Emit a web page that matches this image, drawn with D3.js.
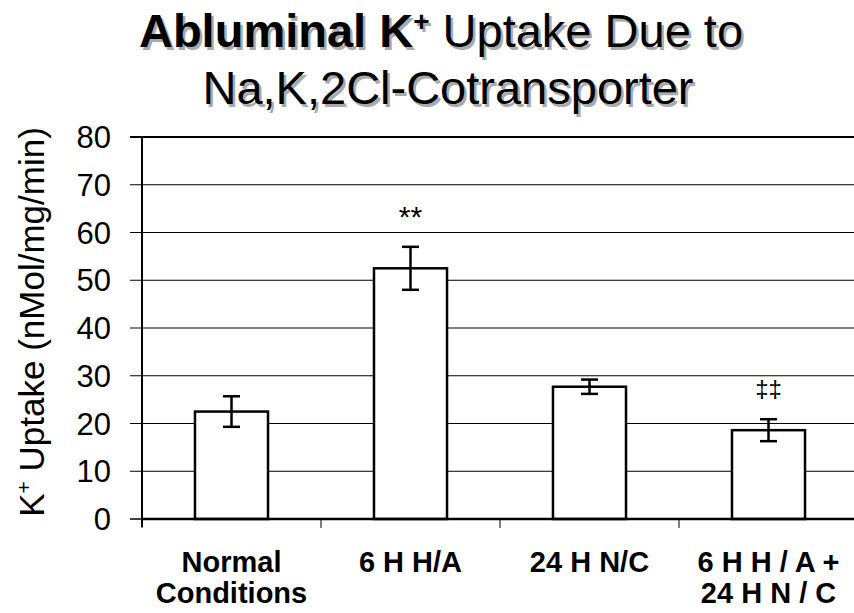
<!DOCTYPE html>
<html><head><meta charset="utf-8">
<script src="https://cdn.jsdelivr.net/npm/d3@7"></script>
<style>body{margin:0;background:#fff}svg{display:block}</style>
</head><body>
<svg id="c" width="854" height="613"></svg>
<script>
const categories = [["Normal","Conditions"],["6 H H/A"],["24 H N/C"],["6 H H / A +","24 H N / C"]];
const values = [22.5, 52.5, 27.7, 18.6];
const errors = [3.2, 4.5, 1.5, 2.3];
const marks = ["", "**", "", "‡‡"];
const yTicks = [0,10,20,30,40,50,60,70,80];

// layout-only settings
const markStyle = {"**": {dy: -20, size: 30}, "‡‡": {dy: -22, size: 24}};

const svg = d3.select("#c");
const F = "'Liberation Sans', Arial, sans-serif";
const L = 142, R = 858, T = 137, B = 519;
const x = d3.scaleBand().domain(d3.range(categories.length)).range([L, R]).paddingInner(0.592).paddingOuter(0.296);
const step = x.step();
const y = d3.scaleLinear().domain([0, 80]).range([B, T]);

// gridlines
svg.append("g").selectAll("line").data(yTicks.filter(d => d > 0 && d < 80)).join("line")
  .attr("x1", 130).attr("x2", 854).attr("y1", d => y(d)).attr("y2", d => y(d))
  .attr("stroke", "#000").attr("stroke-width", 1);
svg.append("line").attr("x1", 130).attr("x2", 854).attr("y1", y(80)).attr("y2", y(80)).attr("stroke", "#000").attr("stroke-width", 2);
svg.append("line").attr("x1", 130).attr("x2", L).attr("y1", y(0)).attr("y2", y(0)).attr("stroke", "#000").attr("stroke-width", 1.5);

// y tick labels
svg.append("g").selectAll("text").data(yTicks).join("text")
  .attr("x", 111).attr("y", d => y(d)).attr("dy", "0.36em").attr("text-anchor", "end")
  .attr("font-family", F).attr("font-size", 31).attr("fill", "#000").text(d => d);

// bars
svg.append("g").selectAll("rect").data(values).join("rect")
  .attr("x", (d, i) => x(i)).attr("width", x.bandwidth())
  .attr("y", d => y(d)).attr("height", d => y(0) - y(d))
  .attr("fill", "#fff").attr("stroke", "#000").attr("stroke-width", 2.5);

// error bars
const eb = svg.append("g").attr("stroke", "#000").attr("stroke-width", 2.5);
values.forEach((v, i) => {
  const cx = x(i) + x.bandwidth() / 2;
  eb.append("line").attr("x1", cx).attr("x2", cx).attr("y1", y(v + errors[i])).attr("y2", y(v - errors[i]));
  eb.append("line").attr("x1", cx - 8.5).attr("x2", cx + 8.5).attr("y1", y(v + errors[i])).attr("y2", y(v + errors[i]));
  eb.append("line").attr("x1", cx - 8.5).attr("x2", cx + 8.5).attr("y1", y(v - errors[i])).attr("y2", y(v - errors[i]));
});

// significance marks
svg.append("g").selectAll("text").data(marks.map((m, i) => ({m, i})).filter(d => d.m)).join("text")
  .attr("x", d => x(d.i) + x.bandwidth() / 2)
  .attr("y", d => y(values[d.i] + errors[d.i]) + markStyle[d.m].dy)
  .attr("text-anchor", "middle").attr("font-family", F).attr("font-size", d => markStyle[d.m].size).attr("fill", "#000")
  .text(d => d.m);

// axes lines
svg.append("line").attr("x1", L).attr("x2", L).attr("y1", T).attr("y2", B + 8).attr("stroke", "#000").attr("stroke-width", 2);
svg.append("line").attr("x1", L).attr("x2", 854).attr("y1", B).attr("y2", B).attr("stroke", "#000").attr("stroke-width", 2.5);
svg.append("g").selectAll("line").data(d3.range(categories.length)).join("line")
  .attr("x1", i => x(i) - x.paddingOuter() * step).attr("x2", i => x(i) - x.paddingOuter() * step)
  .attr("y1", B).attr("y2", B + 9).attr("stroke", "#000").attr("stroke-width", 1);

// x labels
const xl = svg.append("g").attr("font-family", F).attr("font-weight", "bold").attr("font-size", 29).attr("text-anchor", "middle");
categories.forEach((lines, i) => {
  lines.forEach((t, j) => {
    xl.append("text").attr("x", x(i) + x.bandwidth() / 2).attr("y", 572 + j * 31).text(t);
  });
});

// y label
svg.append("text").attr("transform", "translate(44,322) rotate(-90)")
  .attr("text-anchor", "middle").attr("font-family", F).attr("font-size", 35)
  .html('K<tspan font-size="21" dy="-13">+</tspan><tspan dy="13"> Uptake (nMol/mg/min)</tspan>');

// title with shadow
function title(g, off, col) {
  const t1 = g.append("text").attr("x", 441 + off).attr("y", 47 + off).attr("text-anchor", "middle")
    .attr("font-family", F).attr("font-size", 47).attr("fill", col);
  t1.append("tspan").attr("font-weight", "bold").text("Abluminal K");
  t1.append("tspan").attr("font-weight", "bold").attr("font-size", 28).attr("dy", -16).text("+");
  t1.append("tspan").attr("dy", 16).text(" Uptake Due to");
  g.append("text").attr("x", 448 + off).attr("y", 104 + off).attr("text-anchor", "middle")
    .attr("font-family", F).attr("font-size", 47).attr("fill", col).text("Na,K,2Cl-Cotransporter");
}
title(svg.append("g"), 2.5, "#aaa");
title(svg.append("g"), 0, "#000");
</script>
</body></html>
